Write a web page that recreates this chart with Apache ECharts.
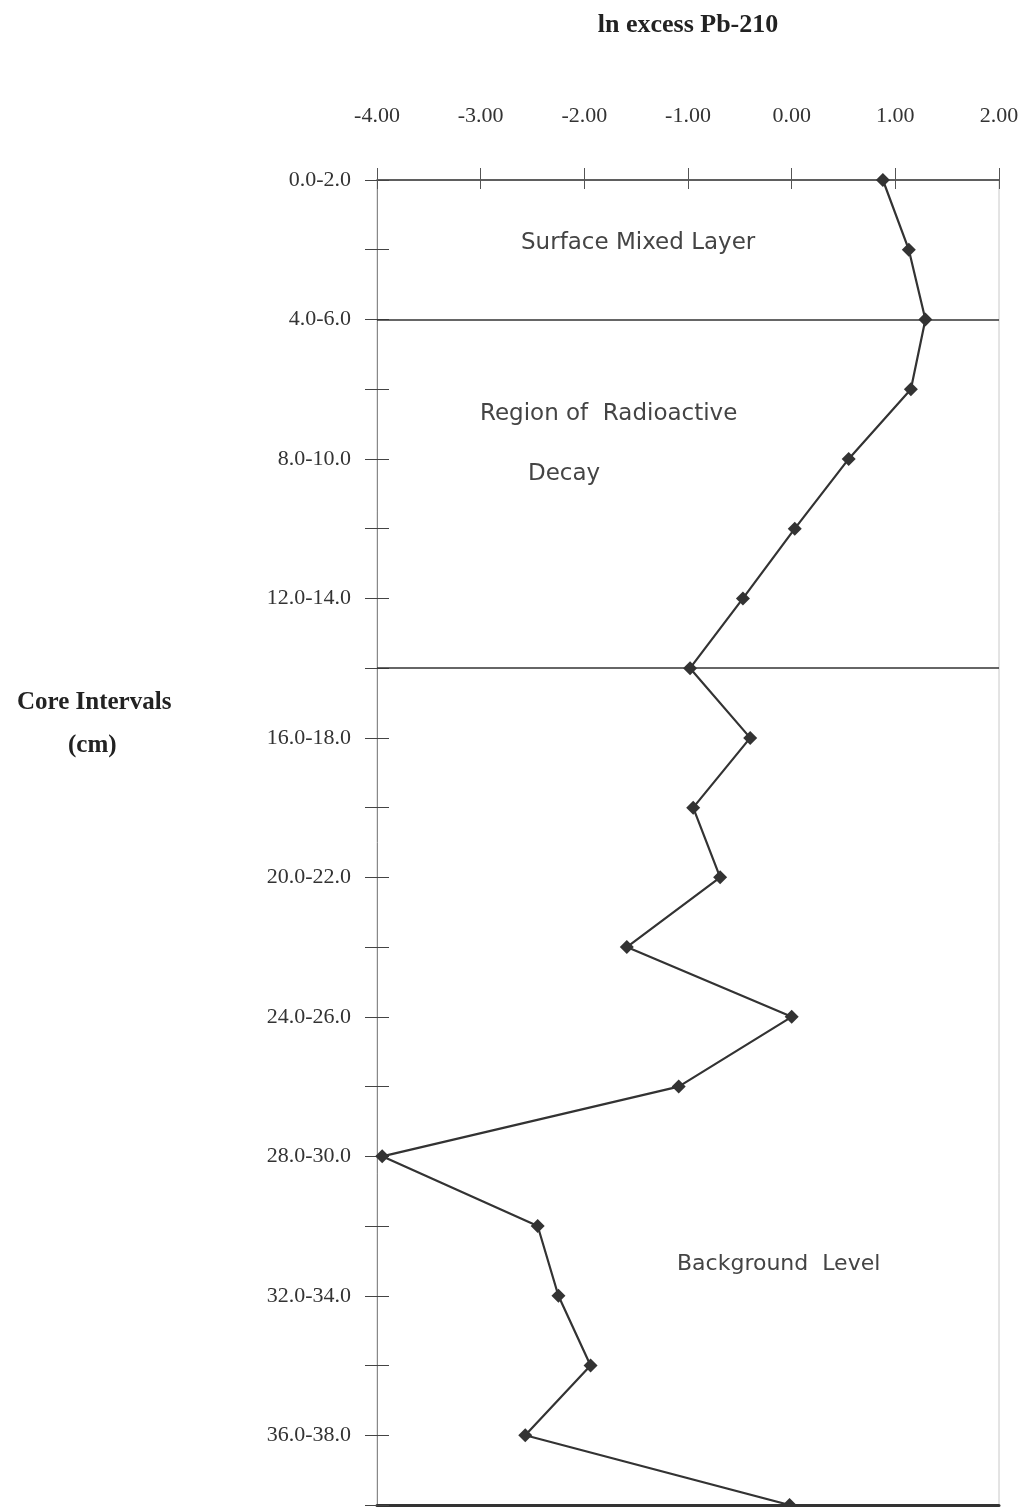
<!DOCTYPE html>
<html>
<head>
<meta charset="utf-8">
<title>ln excess Pb-210</title>
<script src="https://cdn.jsdelivr.net/npm/echarts@6/dist/echarts.min.js"></script>
<style>
  html, body { margin: 0; padding: 0; background: #fff; }
  #showDiv { width: 1027px; height: 1507px; }
</style>
</head>
<body>
<div id="showDiv"></div>
<script>
// core intervals (cm), top to bottom
var intervals = ['0.0-2.0', '2.0-4.0', '4.0-6.0', '6.0-8.0', '8.0-10.0',
    '10.0-12.0', '12.0-14.0', '14.0-16.0', '16.0-18.0', '18.0-20.0',
    '20.0-22.0', '22.0-24.0', '24.0-26.0', '26.0-28.0', '28.0-30.0',
    '30.0-32.0', '32.0-34.0', '34.0-36.0', '36.0-38.0', '38.0-40.0'];
// ln excess Pb-210 per interval
var lnExcess = [0.88, 1.13, 1.29, 1.15, 0.55, 0.03, -0.47, -0.98, -0.40, -0.95,
    -0.69, -1.59, 0.00, -1.09, -3.95, -2.45, -2.25, -1.94, -2.57, -0.02];
var xTicks = [-4, -3, -2, -1, 0, 1, 2];
// zone boundaries drawn across the plot
var zoneLines = ['4.0-6.0', '14.0-16.0'];

var serif = 'Liberation Serif';

var myChart = echarts.init(document.getElementById('showDiv'));

option = {
    backgroundColor: '#fff',
    animation: false,
    grid: {
        left: 377,
        right: 28,
        top: 180,
        bottom: 2,
        show: true,
        borderColor: '#c8c8c8',
        borderWidth: 1
    },
    xAxis: [
        {
            type: 'value',
            position: 'top',
            min: xTicks[0],
            max: xTicks[xTicks.length - 1],
            interval: 1,
            name: 'ln excess Pb-210',
            nameLocation: 'middle',
            nameGap: 142,
            nameTextStyle: { fontFamily: serif, fontWeight: 'bold', fontSize: 26, color: '#222' },
            axisLine: { show: true, onZero: false, lineStyle: { color: '#333', width: 1.5 } },
            axisTick: { show: true, inside: false, length: 12, lineStyle: { color: '#555' } },
            axisLabel: {
                margin: 53,
                fontFamily: serif,
                fontSize: 22,
                color: '#333',
                formatter: function (v) { return v.toFixed(2); }
            },
            splitLine: { show: false }
        },
        {
            type: 'value',
            position: 'top',
            min: xTicks[0],
            max: xTicks[xTicks.length - 1],
            interval: 1,
            axisLine: { show: false, onZero: false },
            axisTick: { show: true, inside: true, length: 9, lineStyle: { color: '#555' } },
            axisLabel: { show: false },
            splitLine: { show: false }
        },
        {
            type: 'value',
            position: 'bottom',
            min: xTicks[0],
            max: xTicks[xTicks.length - 1],
            axisLine: { show: true, onZero: false, lineStyle: { color: '#333', width: 3 } },
            axisTick: { show: false },
            axisLabel: { show: false },
            splitLine: { show: false }
        }
    ],
    yAxis: [
        {
            type: 'category',
            position: 'left',
            inverse: true,
            boundaryGap: false,
            data: intervals,
            axisLine: { show: true, onZero: false, lineStyle: { color: '#888', width: 1 } },
            axisTick: { show: true, inside: false, length: 12, interval: 0, lineStyle: { color: '#444' } },
            axisLabel: {
                interval: 1,
                margin: 26,
                fontFamily: serif,
                fontSize: 22,
                color: '#333'
            },
            splitLine: { show: false }
        },
        {
            type: 'category',
            position: 'left',
            inverse: true,
            boundaryGap: false,
            data: intervals,
            axisLine: { show: false, onZero: false },
            axisTick: { show: true, inside: true, length: 12, interval: 0, lineStyle: { color: '#444' } },
            axisLabel: { show: false },
            splitLine: { show: false }
        }
    ],
    graphic: [
        { type: 'text', left: 17, top: 690, style: { text: 'Core Intervals', font: 'bold 25px "Liberation Serif"', fill: '#222' } },
        { type: 'text', left: 68, top: 733, style: { text: '(cm)', font: 'bold 25px "Liberation Serif"', fill: '#222' } },
        { type: 'text', left: 521, top: 232, style: { text: 'Surface Mixed Layer', font: '23px "DejaVu Sans"', fill: '#444' } },
        { type: 'text', left: 480, top: 403, style: { text: 'Region of  Radioactive', font: '23px "DejaVu Sans"', fill: '#444' } },
        { type: 'text', left: 528, top: 463, style: { text: 'Decay', font: '23px "DejaVu Sans"', fill: '#444' } },
        { type: 'text', left: 677, top: 1253, style: { text: 'Background  Level', font: '22px "DejaVu Sans"', fill: '#444' } }
    ],
    series: [
        {
            name: 'ln excess Pb-210',
            type: 'line',
            xAxisIndex: 0,
            yAxisIndex: 0,
            data: lnExcess,
            clip: false,
            symbol: 'diamond',
            symbolSize: 14,
            itemStyle: { color: '#333' },
            lineStyle: { color: '#333', width: 2.2 },
            markLine: {
                silent: true,
                symbol: ['none', 'none'],
                label: { show: false },
                lineStyle: { color: '#333', width: 1.5, type: 'solid' },
                data: zoneLines.map(function (c) { return { yAxis: c }; })
            }
        }
    ]
};
myChart.setOption(option);
</script>
</body>
</html>
